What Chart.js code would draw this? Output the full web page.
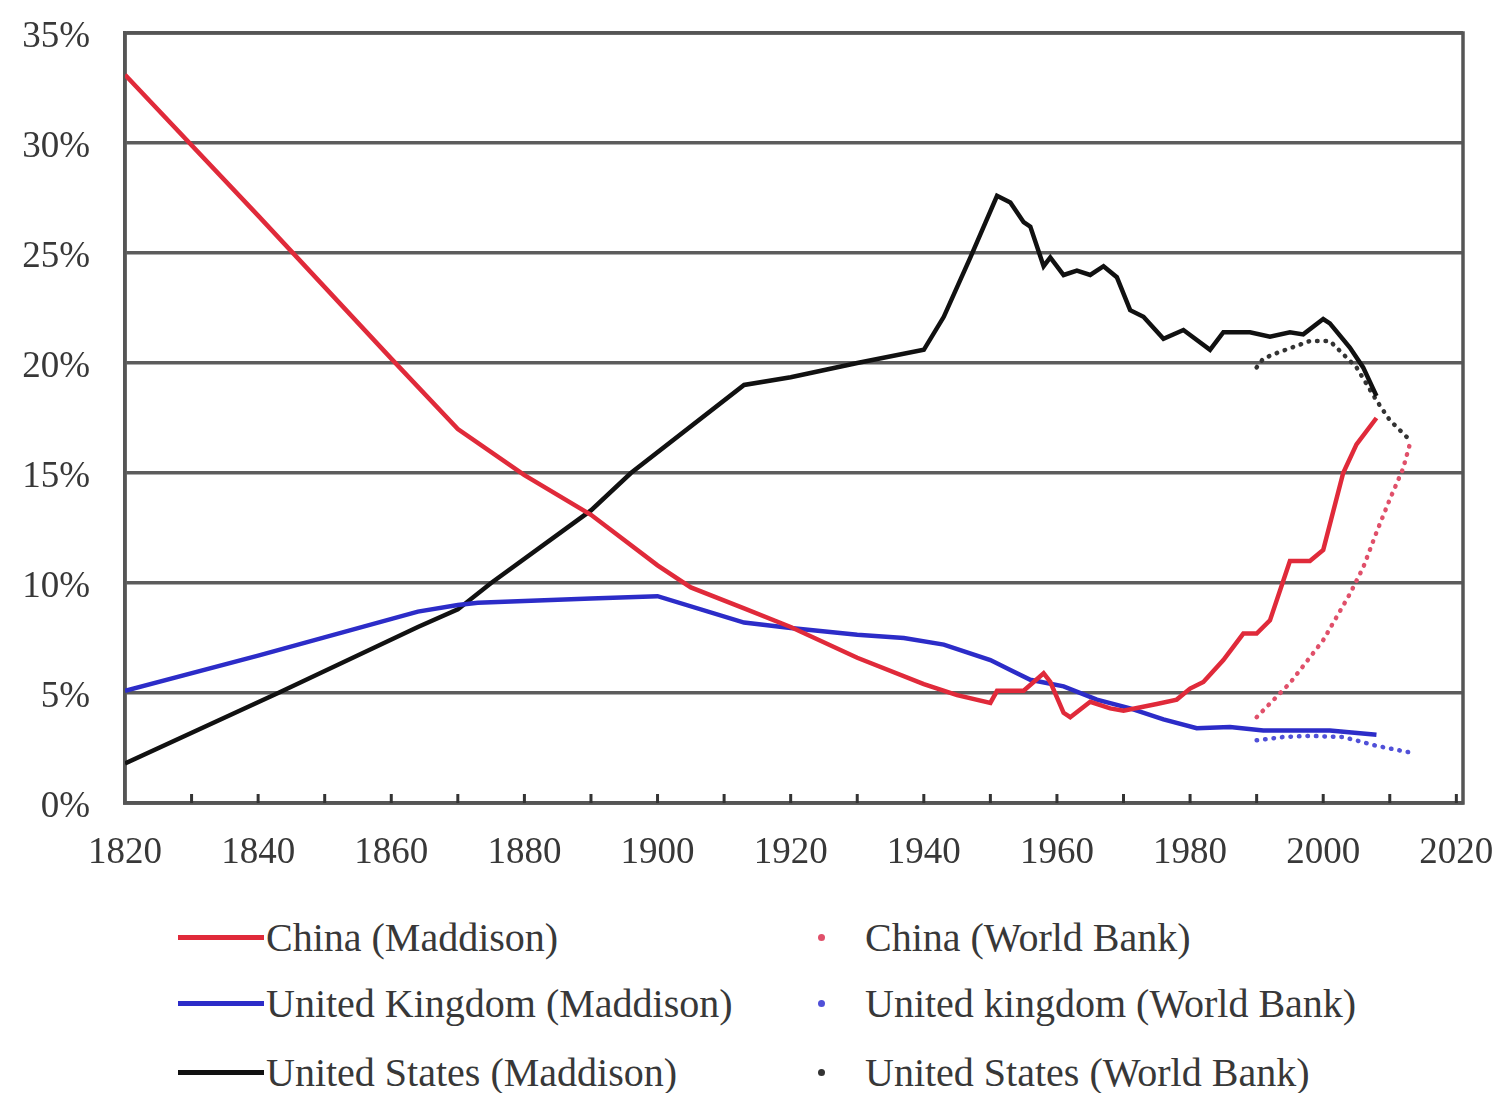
<!DOCTYPE html>
<html>
<head>
<meta charset="utf-8">
<script src="https://cdn.jsdelivr.net/npm/chart.js@4.4.0/dist/chart.umd.min.js"></script>
<style>
  html, body { margin: 0; padding: 0; background: #fff; }
  #wrap { position: relative; width: 1505px; height: 1093px; overflow: hidden; }
  #chart { position: absolute; left: 0; top: 0; }
  #legend {
    position: absolute; left: 0; top: 900px; width: 1505px; height: 193px;
    font-family: "Liberation Serif", "Times New Roman", serif; font-size: 40px; color: #383838;
  }
  .item { position: absolute; height: 50px; display: flex; align-items: center; white-space: nowrap; }
  .swatch-line { width: 86px; height: 5px; margin-right: 2px; }
  .swatch-dot { width: 7px; height: 7px; border-radius: 50%; margin: 0 40px 0 0; }
</style>
</head>
<body>
<div id="wrap">
  <canvas id="chart" width="1505" height="900"></canvas>
  <div id="legend"></div>
</div>
<script>
// Share of world GDP (%), Maddison estimates
const chinaMadYears = [1820, 1840, 1860, 1870, 1880, 1890, 1900, 1905, 1913, 1920, 1930, 1940, 1945, 1950, 1951, 1955, 1958, 1959, 1961, 1962, 1965, 1968, 1970, 1975, 1978, 1980, 1982, 1985, 1988, 1990, 1992, 1995, 1998, 2000, 2003, 2005, 2008];
const chinaMadShare = [33.1, 26.7, 20.2, 17.0, 14.9, 13.1, 10.8, 9.8, 8.85, 8.0, 6.6, 5.4, 4.9, 4.55, 5.1, 5.1, 5.9, 5.5, 4.1, 3.9, 4.6, 4.3, 4.2, 4.5, 4.7, 5.2, 5.5, 6.5, 7.7, 7.7, 8.3, 11.0, 11.0, 11.5, 15.0, 16.3, 17.5];

const ukMadYears = [1820, 1840, 1864, 1870, 1873, 1890, 1900, 1913, 1920, 1930, 1937, 1943, 1950, 1953, 1956, 1961, 1966, 1971, 1976, 1981, 1986, 1991, 2001, 2008];
const ukMadShare = [5.1, 6.7, 8.7, 9.0, 9.1, 9.3, 9.4, 8.2, 7.95, 7.65, 7.5, 7.2, 6.5, 6.05, 5.6, 5.3, 4.7, 4.3, 3.8, 3.4, 3.45, 3.3, 3.3, 3.1];

const usMadYears = [1820, 1843, 1864, 1870, 1875, 1890, 1896, 1913, 1920, 1930, 1940, 1943, 1947, 1951, 1953, 1955, 1956, 1958, 1959, 1961, 1963, 1965, 1967, 1969, 1971, 1973, 1976, 1979, 1983, 1985, 1989, 1992, 1995, 1997, 2000, 2001, 2004, 2006, 2008];
const usMadShare = [1.8, 5.0, 8.0, 8.8, 10.0, 13.3, 15.0, 19.0, 19.35, 20.0, 20.6, 22.1, 24.8, 27.6, 27.3, 26.4, 26.2, 24.4, 24.8, 24.0, 24.2, 24.0, 24.4, 23.9, 22.4, 22.1, 21.1, 21.5, 20.6, 21.4, 21.4, 21.2, 21.4, 21.3, 22.0, 21.8, 20.7, 19.8, 18.5];

// World Bank series
const chinaWbYears = [1990, 1995, 2000, 2004, 2006, 2008, 2010, 2012, 2013];
const chinaWbShare = [3.9, 5.45, 7.4, 9.5, 10.7, 12.3, 13.8, 15.2, 16.3];

const ukWbYears = [1990, 1994, 1998, 2003, 2008, 2013];
const ukWbShare = [2.85, 3.0, 3.05, 3.0, 2.6, 2.3];

const usWbYears = [1990, 1991, 1993, 1998, 2001, 2005, 2008, 2010, 2013];
const usWbShare = [19.8, 20.2, 20.45, 21.0, 21.0, 19.8, 18.3, 17.4, 16.5];

const yTicks = [0, 5, 10, 15, 20, 25, 30, 35];

const pairs = (xs, ys) => xs.map((x, i) => ({ x, y: ys[i] }));

const RED = '#e02a3a', BLUE = '#2c2cc8', BLACK = '#111111';

function solid(label, xs, ys, color) {
  return { label, data: pairs(xs, ys), borderColor: color, backgroundColor: color,
    borderWidth: 4.5, pointRadius: 0, tension: 0, dotted: false };
}
function dotted(label, xs, ys, color) {
  return { label, data: pairs(xs, ys), borderColor: color, backgroundColor: color,
    borderWidth: 4.5, borderDash: [0.5, 8], borderCapStyle: 'round', pointRadius: 0, tension: 0, dotted: true };
}

// plot frame and the short inward ticks along the bottom axis
const frameTicks = {
  id: 'frameTicks',
  beforeDatasetsDraw(chart) {
    const { ctx, chartArea: a, scales: { x } } = chart;
    ctx.save();
    ctx.strokeStyle = '#555';
    ctx.lineWidth = 3.5;
    ctx.strokeRect(a.left, a.top, a.right - a.left, a.bottom - a.top);
    ctx.strokeStyle = '#333';
    ctx.lineWidth = 3;
    x.ticks.forEach(t => {
      if (t.value % 10 !== 0) return;
      const px = x.getPixelForValue(t.value);
      if (px <= a.left + 2) return;
      ctx.beginPath();
      ctx.moveTo(px, a.bottom);
      ctx.lineTo(px, a.bottom - 9);
      ctx.stroke();
    });
    ctx.restore();
  }
};

const tickFont = { family: '"Liberation Serif", "Times New Roman", serif', size: 37 };

const chart = new Chart(document.getElementById('chart').getContext('2d'), {
  type: 'line',
  data: {
    datasets: [
      solid('China (Maddison)', chinaMadYears, chinaMadShare, RED),
      solid('United Kingdom (Maddison)', ukMadYears, ukMadShare, BLUE),
      solid('United States (Maddison)', usMadYears, usMadShare, BLACK),
      dotted('China (World Bank)', chinaWbYears, chinaWbShare, '#e0506a'),
      dotted('United kingdom (World Bank)', ukWbYears, ukWbShare, '#5050d8'),
      dotted('United States (World Bank)', usWbYears, usWbShare, '#333333')
    ]
  },
  options: {
    responsive: false,
    animation: false,
    layout: { padding: { top: 33, right: 42, left: 0, bottom: 0 } },
    plugins: { legend: { display: false }, tooltip: { enabled: false } },
    scales: {
      x: {
        type: 'linear',
        min: 1820,
        max: 2021,
        // fixed axis box; labels may overhang into the margins
        afterFit: s => { s.height = 97; s.paddingLeft = 0; s.paddingRight = 0; },
        grid: { drawOnChartArea: false, drawTicks: false },
        border: { color: '#555', width: 3.5 },
        ticks: {
          stepSize: 10,
          autoSkip: false,
          maxRotation: 0,
          includeBounds: false,
          padding: 28,
          color: '#383838',
          font: tickFont,
          callback: v => (v % 20 === 0 ? String(v) : '')
        }
      },
      y: {
        min: yTicks[0],
        max: yTicks[yTicks.length - 1],
        afterFit: s => { s.width = 125; s.paddingTop = 0; s.paddingBottom = 0; },
        grid: { color: '#5c5c5c', lineWidth: 3.5, drawTicks: false },
        border: { color: '#555', width: 3.5 },
        afterBuildTicks: s => { s.ticks = yTicks.map(v => ({ value: v })); },
        ticks: {
          padding: 35,
          labelOffset: 4,
          color: '#383838',
          font: tickFont,
          callback: v => v + '%'
        }
      }
    }
  },
  plugins: [frameTicks]
});

// two-column legend below the plot, built from the datasets
const legend = document.getElementById('legend');
const rowTops = [12, 78, 147];
chart.data.datasets.forEach((ds, i) => {
  const item = document.createElement('div');
  item.className = 'item';
  const col = i < 3 ? 0 : 1;
  item.style.top = rowTops[i % 3] + 'px';
  item.style.left = col === 0 ? '178px' : '818px';
  const sw = document.createElement('span');
  sw.className = ds.dotted ? 'swatch-dot' : 'swatch-line';
  sw.style.background = ds.borderColor;
  const txt = document.createElement('span');
  txt.textContent = ds.label;
  item.appendChild(sw);
  item.appendChild(txt);
  legend.appendChild(item);
});
</script>
</body>
</html>
